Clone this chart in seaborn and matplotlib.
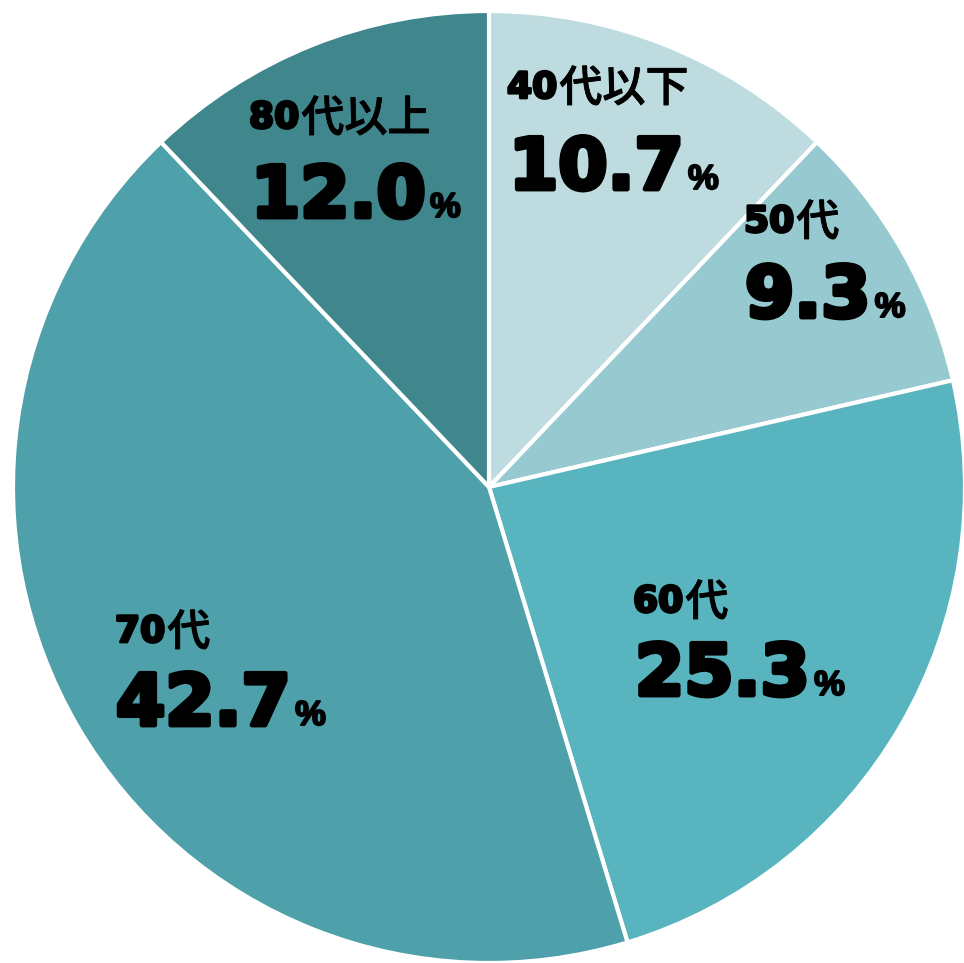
import re
import matplotlib
matplotlib.use("Agg")
import matplotlib.pyplot as plt
import matplotlib.patheffects as pe
import seaborn as sns

categories = ["40代以下", "50代", "60代", "70代", "80代以上"]
# slice shares as drawn in the picture (angles measured from the wedge borders)
slice_shares = [12.1, 9.3, 23.9, 42.6, 12.1]
# percentage texts printed on the chart
value_labels = ["10.7", "9.3", "25.3", "42.7", "12.0"]
colors = ["#BEDCE0", "#97CAD0", "#58B4BF", "#4EA0AA", "#40868D"]

sns.set_theme(style="white")
plt.rcParams["font.family"] = ["DejaVu Sans", "Noto Sans CJK JP"]

W, H = 964, 963
fig = plt.figure(figsize=(W / 100, H / 100), dpi=100)
ax = fig.add_axes([0, 0, 1, 1])

cx, cy, r = 489, H - 487, 476
ax.pie(slice_shares, colors=colors, startangle=90, counterclock=False,
       center=(cx, cy), radius=r, frame=True,
       wedgeprops=dict(edgecolor="white", linewidth=3))
ax.set_xlim(0, W)
ax.set_ylim(0, H)
ax.set_aspect("equal")
ax.axis("off")

# text layout (pixel positions from top-left): label x, label baseline, number x, number baseline
layout = [
    (506, 98, 508, 189),
    (743, 232, 744, 317),
    (632, 612, 634, 695),
    (114, 642, 115, 725),
    (248, 128, 250, 217),
]

stroke_big = [pe.withStroke(linewidth=3.5, foreground="black")]
stroke_mid = [pe.withStroke(linewidth=2.0, foreground="black")]
stroke_small = [pe.withStroke(linewidth=1.4, foreground="black")]
for cat, lab, (lx, ly, nx, ny) in zip(categories, value_labels, layout):
    m = re.match(r"(\d+)(.*)", cat)
    digits, rest = m.group(1), m.group(2)
    t1 = ax.text(lx + 1, H - ly, digits, fontsize=26, fontweight="bold", color="black",
                 family="DejaVu Sans", ha="left", va="baseline",
                 path_effects=stroke_mid)
    ax.annotate(rest, xy=(1, H - ly), xycoords=(t1, "data"),
                xytext=(1.5, -2.5), textcoords="offset points",
                fontsize=31, fontweight="medium", color="black",
                family="Noto Sans CJK JP", ha="left", va="baseline",
                path_effects=[pe.withStroke(linewidth=0.6, foreground="black")])
    t = ax.text(nx + 1, H - ny, lab, fontsize=51, fontweight="bold", color="black",
                family="DejaVu Sans", ha="left", va="baseline",
                path_effects=stroke_big)
    ax.annotate("%", xy=(1, H - ny), xycoords=(t, "data"),
                xytext=(3, 0), textcoords="offset points",
                fontsize=25, fontweight="bold", color="black",
                family="Liberation Sans", ha="left", va="baseline",
                path_effects=stroke_small)

fig.savefig("out.png", dpi=100)
